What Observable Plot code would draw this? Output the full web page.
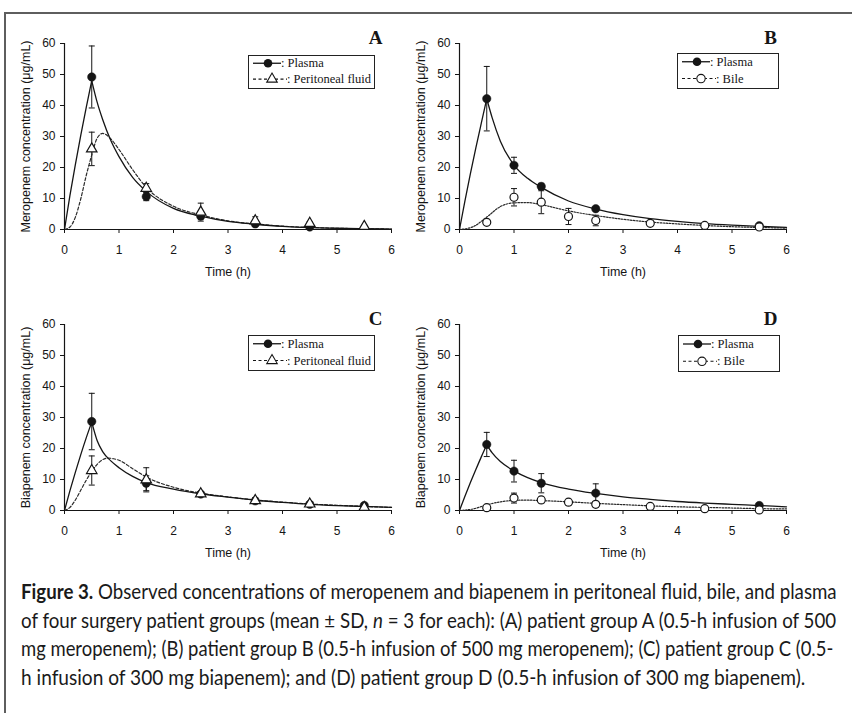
<!DOCTYPE html>
<html><head><meta charset="utf-8">
<script src="https://cdn.jsdelivr.net/npm/d3@7"></script>
<script src="https://cdn.jsdelivr.net/npm/@observablehq/plot@0.6"></script>
<style>
html,body{margin:0;padding:0;background:#fff;}
#root{position:relative;width:852px;height:713px;overflow:hidden;background:#fff;}
#border{position:absolute;left:4px;top:12px;width:848px;height:701px;border-top:2px solid #5e5e5e;border-left:2px solid #5e5e5e;box-sizing:border-box;}
.panel{position:absolute;}
#caption{position:absolute;left:0;top:575px;}
</style></head>
<body><div id="root"><div id="border"></div></div>
<script>
// ---------- axis ticks ----------
const xTicks = [0, 1, 2, 3, 4, 5, 6];
const yTicks = [0, 10, 20, 30, 40, 50, 60];
const xLabel = "Time (h)";
const yLabelMero = "Meropenem concentration (μg/mL)";
const yLabelBia = "Biapenem concentration (μg/mL)";

// ---------- Panel A: meropenem, plasma & peritoneal fluid ----------
const tA_plasma = [0.5, 1.5, 2.5, 3.5, 4.5];
const mA_plasma = [49.2, 10.6, 4.3, 1.8, 0.8];
const sdA_plasma = [10.0, 1.3, 0.8, 0.6, 0.3];
const tA_perit = [0.5, 1.5, 2.5, 3.5, 4.5, 5.5];
const mA_perit = [26.0, 13.3, 5.6, 2.8, 2.0, 1.0];
const sdA_perit = [5.4, 1.5, 2.9, 1.3, 0.5, 0.3];
const ctA_rise = [0, 0.1, 0.2, 0.3, 0.4, 0.5];
const cA_rise = [0, 11, 21, 30.5, 39.5, 48];
const ctA_decay = [0.5, 0.6, 0.7, 0.85, 1.0, 1.25, 1.5, 2.0, 2.5, 3.0, 3.5, 4.0, 5.0, 6.0];
const cA_decay = [48, 41, 35.5, 28.7, 23.5, 16.8, 12.3, 6.8, 4.3, 2.6, 1.7, 1.0, 0.4, 0.15];
const ctA_perit = [0, 0.1, 0.2, 0.3, 0.4, 0.5, 0.6, 0.7, 0.85, 1.0, 1.25, 1.5, 2.0, 2.5, 3.0, 3.5, 4.0, 5.0, 6.0];
const cA_perit = [0, 0.8, 4, 10, 17.5, 24, 29.5, 31, 29.2, 25.8, 19.3, 13.6, 7.5, 4.7, 2.8, 1.8, 1.1, 0.4, 0.15];

// ---------- Panel B: meropenem, plasma & bile ----------
const tB_plasma = [0.5, 1.0, 1.5, 2.5, 5.5];
const mB_plasma = [42.2, 20.7, 13.9, 6.7, 1.2];
const sdB_plasma = [10.4, 2.6, 1.0, 0.5, 0.3];
const tB_bile = [0.5, 1.0, 1.5, 2.0, 2.5, 3.5, 4.5, 5.5];
const mB_bile = [2.3, 10.4, 8.8, 4.2, 2.9, 2.0, 1.3, 0.8];
const sdB_bile = [0.4, 2.8, 3.7, 2.6, 1.7, 0.5, 0.3, 0.2];
const ctB_rise = [0, 0.1, 0.2, 0.3, 0.4, 0.5];
const cB_rise = [0, 9.2, 18, 26.3, 34.3, 42.2];
const ctB_decay = [0.5, 0.6, 0.75, 1.0, 1.25, 1.5, 2.0, 2.5, 3.0, 3.5, 4.0, 4.5, 5.0, 5.5, 6.0];
const cB_decay = [42.2, 36, 28.5, 20.8, 16.5, 13.6, 9.2, 6.6, 4.8, 3.5, 2.6, 1.9, 1.4, 1.0, 0.7];
const ctB_bile = [0, 0.25, 0.5, 0.75, 1.0, 1.25, 1.5, 2.0, 2.5, 3.0, 3.5, 4.0, 4.5, 5.0, 5.5, 6.0];
const cB_bile = [0, 0.9, 4.0, 7.4, 8.6, 8.7, 8.0, 6.0, 4.5, 3.3, 2.4, 1.8, 1.3, 0.9, 0.65, 0.45];

// ---------- Panel C: biapenem, plasma & peritoneal fluid ----------
const tC_plasma = [0.5, 1.5, 2.5, 3.5, 4.5, 5.5];
const mC_plasma = [28.7, 8.8, 5.3, 3.1, 2.0, 1.6];
const sdC_plasma = [9.1, 2.4, 0.6, 0.5, 0.4, 0.3];
const tC_perit = [0.5, 1.5, 2.5, 3.5, 4.5, 5.5];
const mC_perit = [12.9, 9.9, 5.4, 3.2, 2.1, 1.0];
const sdC_perit = [4.7, 3.9, 0.7, 1.0, 0.4, 0.2];
const ctC_rise = [0, 0.1, 0.2, 0.3, 0.4, 0.5];
const cC_rise = [0, 6.4, 12.4, 18.1, 23.5, 28.5];
const ctC_decay = [0.5, 0.6, 0.7, 0.85, 1.0, 1.25, 1.5, 2.0, 2.5, 3.0, 3.5, 4.0, 4.5, 5.0, 5.5, 6.0];
const cC_decay = [28.5, 22.5, 19.0, 16.0, 13.8, 11.0, 9.0, 6.9, 5.4, 4.3, 3.3, 2.6, 2.0, 1.6, 1.3, 1.0];
const ctC_perit = [0, 0.1, 0.2, 0.3, 0.4, 0.5, 0.6, 0.7, 0.8, 0.9, 1.0, 1.25, 1.5, 2.0, 2.5, 3.0, 3.5, 4.0, 4.5, 5.0, 5.5, 6.0];
const cC_perit = [0, 1.0, 3.4, 6.6, 9.8, 12.6, 14.9, 16.4, 16.9, 16.7, 16.2, 13.5, 10.8, 7.5, 5.6, 4.4, 3.4, 2.7, 2.1, 1.7, 1.3, 1.0];

// ---------- Panel D: biapenem, plasma & bile ----------
const tD_plasma = [0.5, 1.0, 1.5, 2.5, 5.5];
const mD_plasma = [21.3, 12.7, 8.8, 5.6, 1.6];
const sdD_plasma = [3.9, 3.5, 3.1, 3.0, 0.3];
const tD_bile = [0.5, 1.0, 1.5, 2.0, 2.5, 3.5, 4.5, 5.5];
const mD_bile = [0.9, 4.0, 3.4, 2.7, 2.0, 1.3, 0.6, 0.2];
const sdD_bile = [0.2, 1.6, 0.9, 0.9, 0.9, 0.4, 0.2, 0.1];
const ctD_rise = [0, 0.1, 0.2, 0.3, 0.4, 0.5];
const cD_rise = [0, 4.6, 9.0, 13.2, 17.3, 21.2];
const ctD_decay = [0.5, 0.6, 0.75, 1.0, 1.25, 1.5, 2.0, 2.5, 3.0, 3.5, 4.0, 4.5, 5.0, 5.5, 6.0];
const cD_decay = [21.2, 18.6, 15.8, 12.8, 10.6, 9.0, 6.9, 5.5, 4.4, 3.6, 2.9, 2.4, 2.0, 1.6, 1.2];
const ctD_bile = [0, 0.25, 0.5, 0.75, 1.0, 1.25, 1.5, 2.0, 2.5, 3.0, 3.5, 4.0, 4.5, 5.0, 5.5, 6.0];
const cD_bile = [0, 0.5, 1.8, 2.8, 3.25, 3.35, 3.2, 2.8, 2.3, 1.9, 1.5, 1.2, 1.0, 0.8, 0.6, 0.5];

// ---------- legend labels ----------
const legendPlasma = ": Plasma";
const legendPerit = ": Peritoneal fluid";
const legendBile = ": Bile";

// ---------- caption ----------
const captionLines = [
  [["Figure 3.", "bold"], [" Observed concentrations of meropenem and biapenem in peritoneal fluid, bile, and plasma", ""]],
  [["of four surgery patient groups (mean ± SD, ", ""], ["n", "italic"], [" = 3 for each): (A) patient group A (0.5-h infusion of 500", ""]],
  [["mg meropenem); (B) patient group B (0.5-h infusion of 500 mg meropenem); (C) patient group C (0.5-", ""]],
  [["h infusion of 300 mg biapenem); and (D) patient group D (0.5-h infusion of 300 mg biapenem).", ""]]
];
const captionWidths = [816, 816, 813, 785];

// ================= drawing =================
const INK = "#151515";
const SANS = "'Liberation Sans', Arial, Helvetica, sans-serif";
const SERIF = "'Liberation Serif', 'Times New Roman', Times, serif";

const capSymbol = {draw(ctx, size) { const w = Math.sqrt(size / Math.PI); ctx.moveTo(-w, 0); ctx.lineTo(w, 0); }};

function rows(t, m, sd) { return t.map((ti, i) => ({t: ti, m: m[i], sd: sd[i]})); }

function legendMark(spec) {
  return (index, scales, values, dims) => {
    const {width, marginRight, marginTop} = dims;
    const x0 = width - marginRight - spec.right - spec.w;
    const y0 = marginTop + spec.top;
    const g = d3.create("svg:g").attr("text-anchor", "start");
    g.append("rect").attr("x", x0 + 0.5).attr("y", y0 + 0.5).attr("width", spec.w).attr("height", spec.h)
      .attr("fill", "white").attr("stroke", "#222").attr("stroke-width", 1);
    const r1 = y0 + spec.h * 0.25, r2 = y0 + spec.h * 0.73;
    // row 1: plasma
    g.append("line").attr("x1", x0 + 5).attr("x2", x0 + 33).attr("y1", r1).attr("y2", r1).attr("stroke", INK).attr("stroke-width", 1.3);
    g.append("circle").attr("cx", x0 + 20).attr("cy", r1).attr("r", 4.3).attr("fill", INK);
    g.append("text").attr("x", x0 + 33).attr("y", r1 + 4.2).attr("text-anchor", "start").text(legendPlasma)
      .attr("font-family", SERIF).attr("font-size", 12.5).attr("fill", INK);
    // row 2: other
    g.append("line").attr("x1", x0 + 5).attr("x2", x0 + 39).attr("y1", r2).attr("y2", r2).attr("stroke", INK)
      .attr("stroke-width", 1.1).attr("stroke-dasharray", "3,2.5");
    const sym = spec.symbol === "triangle" ? d3.symbolTriangle : d3.symbolCircle;
    const sz = spec.symbol === "triangle" ? Math.PI * 3.9 * 3.9 : Math.PI * 4.2 * 4.2;
    g.append("path").attr("d", d3.symbol(sym, sz)()).attr("transform", `translate(${x0 + 24},${r2})`)
      .attr("fill", "white").attr("stroke", INK).attr("stroke-width", 1.1);
    g.append("text").attr("x", x0 + 39).attr("y", r2 + 4.2).attr("text-anchor", "start").text(spec.label)
      .attr("font-family", SERIF).attr("font-size", 12.5).attr("fill", INK);
    return g.node();
  };
}

function makePanel(cfg) {
  const plasma = rows(cfg.tP, cfg.mP, cfg.sdP);
  const other = rows(cfg.tO, cfg.mO, cfg.sdO);
  const both = [...plasma, ...other];
  const pCurve = [
    ...cfg.ctRise.map((t, i) => ({t, c: cfg.cRise[i], seg: "rise"})),
    ...cfg.ctDecay.map((t, i) => ({t, c: cfg.cDecay[i], seg: "decay"}))
  ];
  const oCurve = cfg.ctO.map((t, i) => ({t, c: cfg.cO[i]}));
  const lower = both.filter(d => d.m - d.sd > 0);
  const fmt = d3.format("d");
  return Plot.plot({
    width: 426, height: 280,
    marginLeft: 64, marginRight: 35, marginTop: 43, marginBottom: 51,
    style: {background: "transparent", overflow: "visible", fontFamily: SANS, fontSize: "12px", color: INK},
    x: {domain: [0, 6]},
    y: {domain: [0, 60]},
    marks: [
      Plot.axisX({ticks: xTicks, tickFormat: fmt, tickSize: 4, tickPadding: 12, label: null, fontSize: 12, strokeWidth: 1}),
      Plot.axisY({ticks: yTicks, tickFormat: fmt, tickSize: 4, tickPadding: 5, label: null, fontSize: 12, strokeWidth: 1}),
      Plot.ruleY([0], {stroke: INK, strokeWidth: 1.2}),
      Plot.ruleX([0], {stroke: INK, strokeWidth: 1.2}),
      Plot.text([xLabel], {frameAnchor: "bottom", dy: 42, lineAnchor: "middle", textAnchor: "middle", fontSize: 12.5, fill: INK}),
      Plot.text([cfg.ylabel], {frameAnchor: "left", dx: -39, rotate: -90, lineAnchor: "middle", textAnchor: "middle", fontSize: 12.5, fill: INK}),
      Plot.text([cfg.letter], {frameAnchor: "top-right", dx: -16, dy: -6, lineAnchor: "middle", textAnchor: "middle",
        fontFamily: SERIF, fontWeight: "bold", fontSize: 19, fill: INK}),
      // error bars
      Plot.ruleX(both, {x: "t", y1: d => Math.max(0, d.m - d.sd), y2: d => d.m + d.sd, stroke: INK, strokeWidth: 1}),
      Plot.dot(both, {x: "t", y: d => d.m + d.sd, r: 3, symbol: capSymbol, stroke: INK, strokeWidth: 1, fill: "none"}),
      Plot.dot(lower, {x: "t", y: d => d.m - d.sd, r: 3, symbol: capSymbol, stroke: INK, strokeWidth: 1, fill: "none"}),
      // fitted curves
      Plot.line(oCurve, {x: "t", y: "c", curve: "monotone-x", stroke: "#2a2a2a", strokeWidth: 1.2, strokeDasharray: cfg.dash}),
      Plot.line(pCurve, {x: "t", y: "c", z: "seg", curve: "monotone-x", stroke: INK, strokeWidth: 1.3}),
      // observations
      Plot.dot(plasma, {x: "t", y: "m", r: 4.2, fill: INK, stroke: INK, strokeWidth: 0.5}),
      Plot.dot(other, {x: "t", y: "m", r: cfg.symbol === "triangle" ? 3.9 : 4.0, symbol: cfg.symbol,
        fill: "white", stroke: INK, strokeWidth: 1.2}),
      legendMark(cfg.legend)
    ]
  });
}

const panels = [
  {pos: [0, 0], letter: "A", ylabel: yLabelMero, symbol: "triangle", dash: "3,2",
   tP: tA_plasma, mP: mA_plasma, sdP: sdA_plasma, tO: tA_perit, mO: mA_perit, sdO: sdA_perit,
   ctRise: ctA_rise, cRise: cA_rise, ctDecay: ctA_decay, cDecay: cA_decay, ctO: ctA_perit, cO: cA_perit,
   legend: {right: 17, w: 126, top: 12, h: 33, symbol: "triangle", label: legendPerit}},
  {pos: [395, 0], letter: "B", ylabel: yLabelMero, symbol: "circle", dash: "1.6,1.4",
   tP: tB_plasma, mP: mB_plasma, sdP: sdB_plasma, tO: tB_bile, mO: mB_bile, sdO: sdB_bile,
   ctRise: ctB_rise, cRise: cB_rise, ctDecay: ctB_decay, cDecay: cB_decay, ctO: ctB_bile, cO: cB_bile,
   legend: {right: 8, w: 101, top: 10, h: 35, symbol: "circle", label: legendBile}},
  {pos: [0, 281], letter: "C", ylabel: yLabelBia, symbol: "triangle", dash: "3,2",
   tP: tC_plasma, mP: mC_plasma, sdP: sdC_plasma, tO: tC_perit, mO: mC_perit, sdO: sdC_perit,
   ctRise: ctC_rise, cRise: cC_rise, ctDecay: ctC_decay, cDecay: cC_decay, ctO: ctC_perit, cO: cC_perit,
   legend: {right: 17, w: 126, top: 11, h: 35, symbol: "triangle", label: legendPerit}},
  {pos: [395, 281], letter: "D", ylabel: yLabelBia, symbol: "circle", dash: "1.6,1.4",
   tP: tD_plasma, mP: mD_plasma, sdP: sdD_plasma, tO: tD_bile, mO: mD_bile, sdO: sdD_bile,
   ctRise: ctD_rise, cRise: cD_rise, ctDecay: ctD_decay, cDecay: cD_decay, ctO: ctD_bile, cO: cD_bile,
   legend: {right: 7, w: 101, top: 11, h: 36, symbol: "circle", label: legendBile}}
];

const root = document.getElementById("root");
for (const p of panels) {
  const el = makePanel(p);
  el.classList.add("panel");
  el.style.left = p.pos[0] + "px";
  el.style.top = p.pos[1] + "px";
  el.style.position = "absolute";
  root.appendChild(el);
}

// caption: each line is scaled horizontally to the reference line width
const cap = d3.create("svg").attr("id", "caption").attr("width", 852).attr("height", 130);
root.appendChild(cap.node());
const baselines = [24, 52.5, 81, 109.5];
captionLines.forEach((parts, i) => {
  const t = cap.append("text").attr("x", 0).attr("y", 0)
    .attr("font-family", "Lato, 'Open Sans', sans-serif").attr("font-size", 21).attr("fill", "#1a1a1a");
  for (const [s, st] of parts) {
    const ts = t.append("tspan").text(s);
    if (st === "bold") ts.attr("font-weight", "bold");
    if (st === "italic") ts.attr("font-style", "italic");
  }
  const natural = t.node().getComputedTextLength() || captionWidths[i];
  const sx = captionWidths[i] / natural;
  t.attr("transform", `translate(21,${baselines[i]}) scale(${sx},1)`);
});
</script></body></html>
